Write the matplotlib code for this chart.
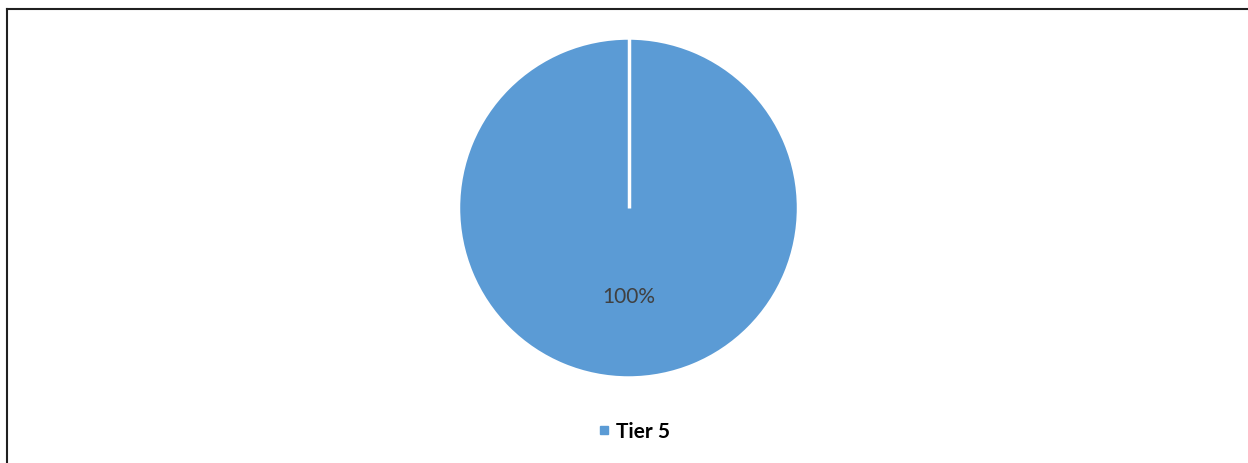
import matplotlib
matplotlib.use("Agg")
import numpy as np
import matplotlib.pyplot as plt
from matplotlib.lines import Line2D

# Data
labels = ["Tier 5"]
values = [100]
colors = ["#5B9BD5"]

plt.rcParams["font.family"] = ["Lato", "DejaVu Sans"]

W, H = 1248, 464
fig = plt.figure(figsize=(W / 100, H / 100), dpi=100)

# pie axes: centre (628.5, 209) px from top-left, radius ~170 px
cx, cy, r = 628.5, H - 209, 170
ax = fig.add_axes([(cx - r) / W, (cy - r) / H, 2 * r / W, 2 * r / H])
wedges, texts, autotexts = ax.pie(
    values,
    colors=colors,
    startangle=90,
    counterclock=False,
    autopct="%1.0f%%",
    pctdistance=0.515,
    wedgeprops=dict(edgecolor="white", linewidth=2.5),
    textprops=dict(color="#404040", fontsize=15),
)
# a full 360-degree wedge has no radial edge drawn, so add the slice border
for w in wedges:
    a = np.deg2rad(w.theta1)
    ax.plot([0, np.cos(a)], [0, np.sin(a)], color="white", linewidth=2.5,
            solid_capstyle="butt", zorder=3)
ax.set_xlim(-1, 1)
ax.set_ylim(-1, 1)

# legend below the pie
handles = [Line2D([], [], marker="s", linestyle="none", markersize=6,
                  markerfacecolor=c, markeredgecolor=c) for c in colors]
leg = fig.legend(handles, labels, loc="center", bbox_to_anchor=(632 / W, (H - 432) / H),
                 frameon=False, handletextpad=0.05, handlelength=1.0,
                 prop=dict(weight="bold", size=15))

# chart border (left and top edges visible)
fig.add_artist(Line2D([6.5 / W, 6.5 / W], [0, 1 - 9.5 / H], transform=fig.transFigure,
                      color="#202020", linewidth=1.5))
fig.add_artist(Line2D([6.5 / W, 1], [1 - 9.5 / H, 1 - 9.5 / H], transform=fig.transFigure,
                      color="#202020", linewidth=1.5))

fig.savefig("out.png", dpi=100, facecolor="white")
